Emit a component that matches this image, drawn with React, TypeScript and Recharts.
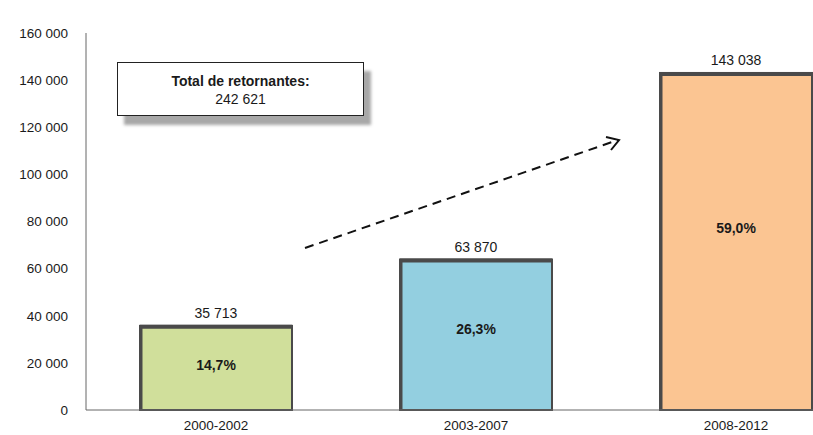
import { BarChart, Bar, XAxis, YAxis, LabelList, Cell } from "recharts"

const periods = ["2000-2002", "2003-2007", "2008-2012"]
const returnees = [35713, 63870, 143038]
const shares = ["14,7%", "26,3%", "59,0%"]
const barColors = ["#d0df9b", "#93cfe0", "#fbc592"]
const yTicks = [0, 20000, 40000, 60000, 80000, 100000, 120000, 140000, 160000]
const totalLabel = "Total de retornantes:"
const totalValue = "242 621"

const data = periods.map((p, i) => ({ period: p, value: returnees[i], share: shares[i] }))

const font = "'Liberation Sans', Arial, sans-serif"
const fmt = (v: number) => String(v).replace(/\B(?=(\d{3})+(?!\d))/g, " ")

function BorderedBar(props: any) {
    const { x, y, width, height, fill } = props
    if (!height || height <= 0) return null
    return (
        <g>
            <rect x={x} y={y} width={width} height={height} fill={fill} stroke="#4a4a4a" strokeWidth={2} />
            <line x1={x} y1={y + 1} x2={x + width} y2={y + 1} stroke="#4a4a4a" strokeWidth={4} />
            <line x1={x + 1} y1={y} x2={x + 1} y2={y + height} stroke="#4a4a4a" strokeWidth={3} />
        </g>
    )
}

function ShareLabel(props: any) {
    const { x, y, width, height, value } = props
    return (
        <text x={x + width / 2} y={y + height * 0.46} textAnchor="middle" dominantBaseline="central"
            fontFamily={font} fontSize={14} fontWeight="bold" fill="#1a1a1a">
            {value}
        </text>
    )
}

export default function App() {
    return (
        <div style={{ position: "absolute", left: 0, top: 0, width: 813, height: 435, overflow: "hidden", background: "#fff" }}>
            <BarChart width={866} height={435} data={data} margin={{ top: 33, right: 0, left: 0, bottom: 0 }}
                barCategoryGap={54} barSize={152}>
                <XAxis dataKey="period" height={25} tickLine={false} axisLine={{ stroke: "#666" }} tickMargin={4}
                    tick={{ fontFamily: font, fontSize: 13.5, fill: "#1a1a1a" }} interval={0} />
                <YAxis type="number" domain={[0, 160000]} ticks={yTicks} width={86} tickLine={false}
                    axisLine={{ stroke: "#666" }} tickMargin={12} tickFormatter={fmt}
                    tick={{ fontFamily: font, fontSize: 13.5, fill: "#1a1a1a" }} />
                <Bar dataKey="value" shape={<BorderedBar />} isAnimationActive={false}>
                    {data.map((d, i) => (
                        <Cell key={d.period} fill={barColors[i]} />
                    ))}
                    <LabelList dataKey="value" position="top" offset={8} formatter={(v: any) => fmt(Number(v))}
                        style={{ fontFamily: font, fontSize: 14, fill: "#1a1a1a" }} />
                    <LabelList dataKey="share" content={<ShareLabel />} />
                </Bar>
            </BarChart>
            <svg width={813} height={435} style={{ position: "absolute", left: 0, top: 0, pointerEvents: "none" }}>
                <line x1={305} y1={248} x2={618} y2={140} stroke="#111" strokeWidth={2} strokeDasharray="9 6" />
                <polyline points="606,137 619,140 611,150" fill="none" stroke="#111" strokeWidth={2} />
            </svg>
            <div style={{
                position: "absolute", left: 117, top: 62, width: 247, height: 54, border: "1.5px solid #222",
                background: "#fff", boxShadow: "7px 9px 3px #a8a8a8", fontFamily: font, fontSize: 14,
                color: "#1a1a1a", textAlign: "center", lineHeight: "18px", paddingTop: 9, boxSizing: "border-box"
            }}>
                <div style={{ fontWeight: "bold" }}>{totalLabel}</div>
                <div>{totalValue}</div>
            </div>
        </div>
    )
}
